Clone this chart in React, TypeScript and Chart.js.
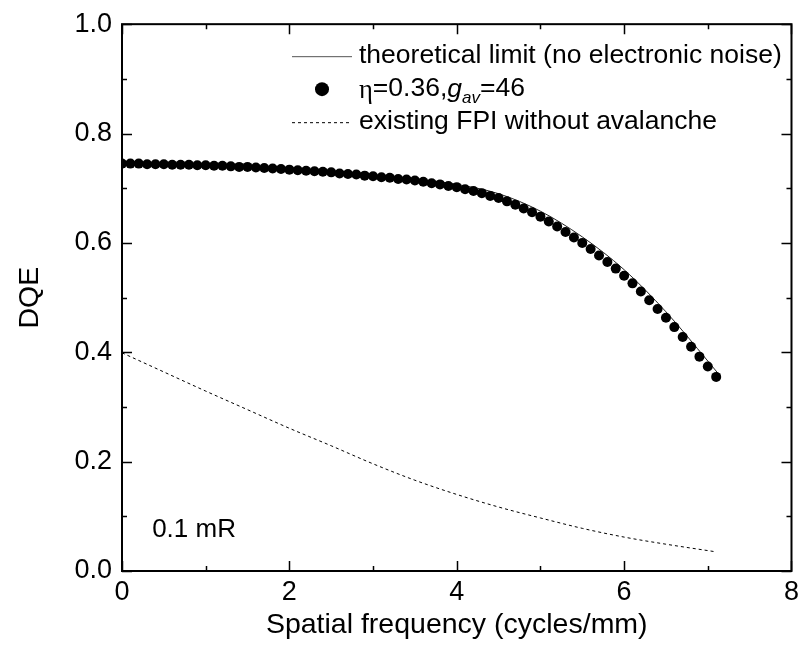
import { useEffect, useRef } from "react";
import { Chart, registerables } from "chart.js";

Chart.register(...registerables);

// ---- data ----
const dotFreq = [
  0.0, 0.1, 0.2, 0.3, 0.4, 0.5, 0.6, 0.7, 0.8, 0.9,
  1.0, 1.1, 1.2, 1.3, 1.4, 1.5, 1.6, 1.7, 1.8, 1.9,
  2.0, 2.1, 2.2, 2.3, 2.4, 2.5, 2.6, 2.7, 2.8, 2.9,
  3.0, 3.1, 3.2, 3.3, 3.4, 3.5, 3.6, 3.7, 3.8, 3.9,
  4.0, 4.1, 4.2, 4.3, 4.4, 4.5, 4.6, 4.7, 4.8, 4.9,
  5.0, 5.1, 5.2, 5.3, 5.4, 5.5, 5.6, 5.7, 5.8, 5.9,
  6.0, 6.1, 6.2, 6.3, 6.4, 6.5, 6.6, 6.7, 6.8, 6.9,
  7.0, 7.1,
];
const dotDQE = [
  0.745, 0.745, 0.745, 0.744, 0.744, 0.744, 0.743, 0.743, 0.743, 0.742,
  0.742, 0.741, 0.741, 0.740, 0.739, 0.739, 0.738, 0.737, 0.736, 0.735,
  0.734, 0.733, 0.732, 0.731, 0.730, 0.729, 0.727, 0.726, 0.725, 0.723,
  0.722, 0.720, 0.719, 0.717, 0.716, 0.714, 0.712, 0.709, 0.707, 0.704,
  0.702, 0.698, 0.695, 0.691, 0.686, 0.682, 0.676, 0.670, 0.663, 0.656,
  0.648, 0.639, 0.630, 0.620, 0.610, 0.600, 0.589, 0.577, 0.565, 0.553,
  0.540, 0.526, 0.511, 0.495, 0.479, 0.463, 0.446, 0.428, 0.410, 0.392,
  0.374, 0.355,
];

const limitFreq = [0, 0.5, 1, 1.5, 2, 2.5, 3, 3.5, 4, 4.5, 5, 5.5, 6, 6.5, 7, 7.13];
const limitDQE = [0.745, 0.744, 0.742, 0.739, 0.735, 0.730, 0.724, 0.717, 0.707, 0.690, 0.658, 0.611, 0.551, 0.474, 0.384, 0.360];

const fpiFreq = [0, 0.5, 1, 1.5, 2, 2.5, 3, 3.5, 4, 4.5, 5, 5.5, 6, 6.5, 7.1];
const fpiDQE = [0.399, 0.364, 0.329, 0.295, 0.261, 0.229, 0.196, 0.166, 0.140, 0.117, 0.097, 0.078, 0.062, 0.049, 0.035];

const xTickValues = [0, 1, 2, 3, 4, 5, 6, 7, 8];
const xMajorTicks = [0, 2, 4, 6, 8];
const yTickValues = [0, 0.1, 0.2, 0.3, 0.4, 0.5, 0.6, 0.7, 0.8, 0.9, 1.0];
const yMajorTicks = [0, 0.2, 0.4, 0.6, 0.8, 1.0];

const legendLabels = [
  "theoretical limit (no electronic noise)",
  "η=0.36,g_av=46",
  "existing FPI without avalanche",
];
const annotationText = "0.1 mR";
const xTitle = "Spatial frequency (cycles/mm)";
const yTitle = "DQE";

const SANS = '"Liberation Sans", Arial, sans-serif';
const SERIF = '"Liberation Serif", "Times New Roman", serif';
const FS_LEG = 26.5;
const FS_TICK = 27;
const FS_TITLE = 28.5;
const FS_ANN = 26;

const pts = (xs: number[], ys: number[]) => xs.map((x, i) => ({ x, y: ys[i] }));

const framePlugin = {
  id: "frameTicks",
  afterDatasetsDraw(chart: any) {
    const { ctx, chartArea: a, scales } = chart;
    const xs = scales.x;
    const ys = scales.y;
    ctx.save();
    ctx.strokeStyle = "#000";
    ctx.lineWidth = 1.5;
    ctx.beginPath();
    for (const v of xTickValues) {
      const px = Math.round(xs.getPixelForValue(v)) + 0.5;
      const len = xMajorTicks.includes(v) ? 10 : 5;
      ctx.moveTo(px, a.bottom);
      ctx.lineTo(px, a.bottom - len);
      ctx.moveTo(px, a.top);
      ctx.lineTo(px, a.top + len);
    }
    for (const v of yTickValues) {
      const py = Math.round(ys.getPixelForValue(v)) + 0.5;
      const len = yMajorTicks.some((m) => Math.abs(m - v) < 1e-9) ? 10 : 5;
      ctx.moveTo(a.left, py);
      ctx.lineTo(a.left + len, py);
      ctx.moveTo(a.right, py);
      ctx.lineTo(a.right - len, py);
    }
    ctx.stroke();
    ctx.lineWidth = 2;
    ctx.strokeRect(a.left, a.top, a.right - a.left, a.bottom - a.top);
    ctx.restore();
  },
  afterDraw(chart: any) {
    const { ctx, chartArea: a, scales } = chart;
    ctx.save();
    ctx.fillStyle = "#000";
    ctx.strokeStyle = "#000";
    ctx.textBaseline = "middle";
    ctx.textAlign = "left";

    const lx0 = a.left + 170;
    const lx1 = a.left + 230;
    const tx = a.left + 237;
    const rows = [a.top + 32, a.top + 65, a.top + 98];

    // row 1: solid line
    ctx.lineWidth = 1;
    ctx.strokeStyle = "#555";
    ctx.beginPath();
    ctx.moveTo(lx0, rows[0] + 0.5);
    ctx.lineTo(lx1, rows[0] + 0.5);
    ctx.stroke();
    ctx.font = `${FS_LEG}px ${SANS}`;
    ctx.fillText(legendLabels[0], tx, rows[0]);

    // row 2: filled circle + composite label
    ctx.beginPath();
    ctx.arc((lx0 + lx1) / 2, rows[1], 7, 0, Math.PI * 2);
    ctx.fill();
    let x = tx;
    ctx.font = `${FS_LEG}px ${SERIF}`;
    ctx.fillText("η", x, rows[1] + 2);
    x += ctx.measureText("η").width;
    ctx.font = `${FS_LEG}px ${SANS}`;
    ctx.fillText("=0.36,", x, rows[1]);
    x += ctx.measureText("=0.36,").width;
    ctx.font = `italic ${FS_LEG}px ${SANS}`;
    ctx.fillText("g", x, rows[1]);
    x += ctx.measureText("g").width;
    ctx.font = `italic 17px ${SANS}`;
    ctx.fillText("av", x, rows[1] + 9);
    x += ctx.measureText("av").width;
    ctx.font = `${FS_LEG}px ${SANS}`;
    ctx.fillText("=46", x, rows[1]);

    // row 3: dashed line
    ctx.strokeStyle = "#000";
    ctx.lineWidth = 1;
    ctx.setLineDash([3, 3]);
    ctx.beginPath();
    ctx.moveTo(lx0, rows[2] + 0.5);
    ctx.lineTo(lx1, rows[2] + 0.5);
    ctx.stroke();
    ctx.setLineDash([]);
    ctx.fillText(legendLabels[2], tx, rows[2]);

    // annotation
    ctx.font = `${FS_ANN}px ${SANS}`;
    ctx.fillText(annotationText, scales.x.getPixelForValue(0.36), scales.y.getPixelForValue(0.076));
    ctx.restore();
  },
};

export default function App() {
  const ref = useRef<HTMLCanvasElement | null>(null);

  useEffect(() => {
    document.body.style.margin = "0";
    const canvas = ref.current;
    if (!canvas) return;
    const chart = new Chart(canvas, {
      type: "line",
      data: {
        datasets: [
          {
            label: legendLabels[1],
            data: pts(dotFreq, dotDQE),
            showLine: false,
            pointRadius: 5,
            pointHoverRadius: 5,
            pointBackgroundColor: "#000",
            pointBorderWidth: 0,
            borderColor: "#000",
            order: 1,
          },
          {
            label: legendLabels[0],
            data: pts(limitFreq, limitDQE),
            borderColor: "#222",
            borderWidth: 1,
            pointRadius: 0,
            cubicInterpolationMode: "monotone",
            order: 2,
          },
          {
            label: legendLabels[2],
            data: pts(fpiFreq, fpiDQE),
            borderColor: "#000",
            borderWidth: 1,
            borderDash: [3, 3],
            pointRadius: 0,
            cubicInterpolationMode: "monotone",
            order: 3,
          },
        ],
      },
      options: {
        responsive: false,
        animation: false,
        events: [],
        layout: { padding: { left: 0, top: 15, right: 12, bottom: 0 } },
        plugins: {
          legend: { display: false },
          tooltip: { enabled: false },
        },
        scales: {
          x: {
            type: "linear",
            min: 0,
            max: 8,
            grid: { display: false, drawTicks: false },
            border: { display: false },
            ticks: {
              stepSize: 2,
              padding: 5,
              color: "#000",
              font: { family: SANS, size: FS_TICK },
              maxRotation: 0,
            },
            title: {
              display: true,
              text: xTitle,
              color: "#000",
              font: { family: SANS, size: FS_TITLE },
              padding: { top: 0, bottom: 8 },
            },
            afterFit: (s: any) => {
              s.height = 79;
            },
          },
          y: {
            type: "linear",
            min: 0,
            max: 1,
            grid: { display: false, drawTicks: false },
            border: { display: false },
            ticks: {
              stepSize: 0.2,
              padding: 10,
              color: "#000",
              font: { family: SANS, size: FS_TICK, lineHeight: 1.05 },
              callback: (v: any) => Number(v).toFixed(1),
            },
            title: {
              display: true,
              text: yTitle,
              color: "#000",
              font: { family: SANS, size: FS_TITLE },
              padding: { top: 13, bottom: 0 },
            },
            afterFit: (s: any) => {
              s.width = 122;
            },
          },
        },
      },
      plugins: [framePlugin],
    } as any);
    return () => chart.destroy();
  }, []);

  return <canvas ref={ref} width={804} height={650} style={{ display: "block" }} />;
}
